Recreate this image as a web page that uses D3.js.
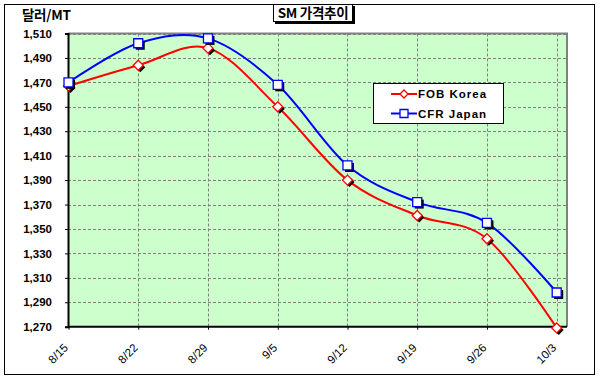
<!DOCTYPE html>
<html>
<head>
<meta charset="utf-8">
<script src="https://cdn.jsdelivr.net/npm/d3@7"></script>
<style>
  body { margin: 0; background: #fff; }
  text { font-family: Arial, "Liberation Sans", sans-serif; font-weight: bold; }
</style>
</head>
<body>
<div id="chart"></div>
<script>
var width = 600,
    height = 383;

// data
var dates = ["8/15", "8/22", "8/29", "9/5", "9/12", "9/19", "9/26", "10/3"];
var fobKorea = [1467, 1484, 1498, 1450, 1390, 1361, 1342, 1269];
var cfrJapan = [1470, 1502, 1506, 1468, 1402, 1372, 1355, 1298];
var yTicks = [1270, 1290, 1310, 1330, 1350, 1370, 1390, 1410, 1430, 1450, 1470, 1490, 1510];

var plot = {left: 68, top: 33.5, right: 567, bottom: 326.7};

var svg = d3.select("#chart").append("svg")
    .attr("width", width)
    .attr("height", height);

// outer chart border
svg.append("rect")
    .attr("x", 4.5).attr("y", 4.5)
    .attr("width", 590).attr("height", 370)
    .attr("fill", "#fff")
    .attr("stroke", "#000")
    .attr("stroke-width", 1);

var x = d3.scalePoint()
    .domain(dates)
    .range([68.5, 556.7]);

var y = d3.scaleLinear()
    .domain([1270, 1510])
    .range([plot.bottom, plot.top]);

// plot area
svg.append("rect")
    .attr("x", plot.left).attr("y", plot.top)
    .attr("width", plot.right - plot.left)
    .attr("height", plot.bottom - plot.top)
    .attr("fill", "#ccffcc");

// gridlines
var grid = svg.append("g").attr("class", "grid");
grid.selectAll("line.h")
    .data(yTicks.slice(1))
    .enter().append("line")
    .attr("class", "h")
    .attr("x1", plot.left).attr("x2", plot.right)
    .attr("y1", function(d) { return Math.round(y(d)) + 0.5; })
    .attr("y2", function(d) { return Math.round(y(d)) + 0.5; })
    .attr("stroke", "#808080")
    .attr("stroke-dasharray", "3,2");
grid.selectAll("line.v")
    .data(dates.slice(1))
    .enter().append("line")
    .attr("class", "v")
    .attr("y1", plot.top).attr("y2", plot.bottom)
    .attr("x1", function(d) { return Math.round(x(d)) + 0.5; })
    .attr("x2", function(d) { return Math.round(x(d)) + 0.5; })
    .attr("stroke", "#808080")
    .attr("stroke-dasharray", "3,2");

// gray top / right frame
svg.append("path")
    .attr("d", "M" + plot.left + "," + plot.top + "H" + plot.right + "V" + plot.bottom)
    .attr("fill", "none")
    .attr("stroke", "#808080")
    .attr("stroke-width", 2);

// axes
var yAxis = d3.axisLeft(y)
    .tickValues(yTicks)
    .tickSize(3)
    .tickFormat(d3.format(","));
var gy = svg.append("g")
    .attr("transform", "translate(" + plot.left + ",0)")
    .call(yAxis);
gy.select(".domain").attr("stroke-width", 2);
gy.selectAll("text")
    .attr("x", -16)
    .style("font-size", "11.5px")
    .style("fill", "#000");

var xAxis = d3.axisBottom(x).tickSize(3).tickSizeOuter(0);
var gx = svg.append("g")
    .attr("transform", "translate(0," + plot.bottom + ")")
    .call(xAxis);
gx.select(".domain")
    .attr("d", "M" + plot.left + ",0H" + plot.right)
    .attr("stroke-width", 2);
gx.selectAll("text")
    .attr("transform", "translate(-3,19) rotate(-45)")
    .attr("x", 0).attr("y", 0).attr("dy", "0.35em")
    .style("text-anchor", "end")
    .style("font-size", "11.5px")
    .style("font-weight", "normal")
    .style("fill", "#000");

// series
var line = d3.line()
    .x(function(d, i) { return x(dates[i]); })
    .y(function(d) { return y(d); })
    .curve(d3.curveCatmullRom.alpha(0));

var series = [
    {name: "FOB Korea", values: fobKorea, color: "#ff0000", marker: "diamond"},
    {name: "CFR Japan", values: cfrJapan, color: "#0000ff", marker: "square"}
];

function markerPath(type) {
    if (type == "diamond") return "M0,-5L5,0L0,5L-5,0Z";
    return "M-4.5,-4.5H4.5V4.5H-4.5Z";
}

series.forEach(function(s) {
    svg.append("path")
        .datum(s.values)
        .attr("d", line)
        .attr("fill", "none")
        .attr("stroke", s.color)
        .attr("stroke-width", 2);
});

series.forEach(function(s) {
    var g = svg.append("g");
    // shadows
    g.selectAll("path.shadow")
        .data(s.values)
        .enter().append("path")
        .attr("class", "shadow")
        .attr("d", markerPath(s.marker))
        .attr("transform", function(d, i) { return "translate(" + (x(dates[i]) + 2) + "," + (y(d) + 2) + ")"; })
        .attr("fill", "#000");
    g.selectAll("path.mark")
        .data(s.values)
        .enter().append("path")
        .attr("class", "mark")
        .attr("d", markerPath(s.marker))
        .attr("transform", function(d, i) { return "translate(" + x(dates[i]) + "," + y(d) + ")"; })
        .attr("fill", "#fff")
        .attr("stroke", s.color)
        .attr("stroke-width", 1.3);
});

// legend
var legend = svg.append("g");
legend.append("rect")
    .attr("x", 373.5).attr("y", 83.5)
    .attr("width", 130).attr("height", 40)
    .attr("fill", "#fff")
    .attr("stroke", "#000");
var items = legend.selectAll("g.item")
    .data(series)
    .enter().append("g")
    .attr("class", "item")
    .attr("transform", function(d, i) { return "translate(0," + (94 + i * 19.5) + ")"; });
items.append("line")
    .attr("x1", 391).attr("x2", 417)
    .attr("stroke", function(d) { return d.color; })
    .attr("stroke-width", 2);
items.append("path")
    .attr("d", function(d) { return d.marker == "diamond" ? "M0,-4L4,0L0,4L-4,0Z" : "M-4,-4H4V4H-4Z"; })
    .attr("transform", "translate(404,0)")
    .attr("fill", "#fff")
    .attr("stroke", function(d) { return d.color; })
    .attr("stroke-width", 1.3);
items.append("text")
    .attr("x", 418).attr("dy", "0.36em")
    .style("font-size", "11.5px")
    .style("letter-spacing", "1px")
    .text(function(d) { return d.name; });

// title box
var title = svg.append("g");
title.append("rect")
    .attr("x", 275).attr("y", 6)
    .attr("width", 80).attr("height", 18)
    .attr("fill", "#000");
title.append("rect")
    .attr("x", 273.5).attr("y", 4.5)
    .attr("width", 79).attr("height", 17)
    .attr("fill", "#fff")
    .attr("stroke", "#000");
title.append("text")
    .attr("x", 313).attr("y", 18)
    .attr("text-anchor", "middle")
    .style("font-family", "'Noto Sans CJK KR', sans-serif")
    .style("font-size", "13.5px")
    .style("letter-spacing", "-0.3px")
    .text("SM 가격추이");

// y axis title
svg.append("text")
    .attr("x", 22).attr("y", 20)
    .style("font-family", "'Noto Sans CJK KR', sans-serif")
    .style("font-size", "13.5px")
    .style("letter-spacing", "-0.3px")
    .text("달러/MT");
</script>
</body>
</html>
